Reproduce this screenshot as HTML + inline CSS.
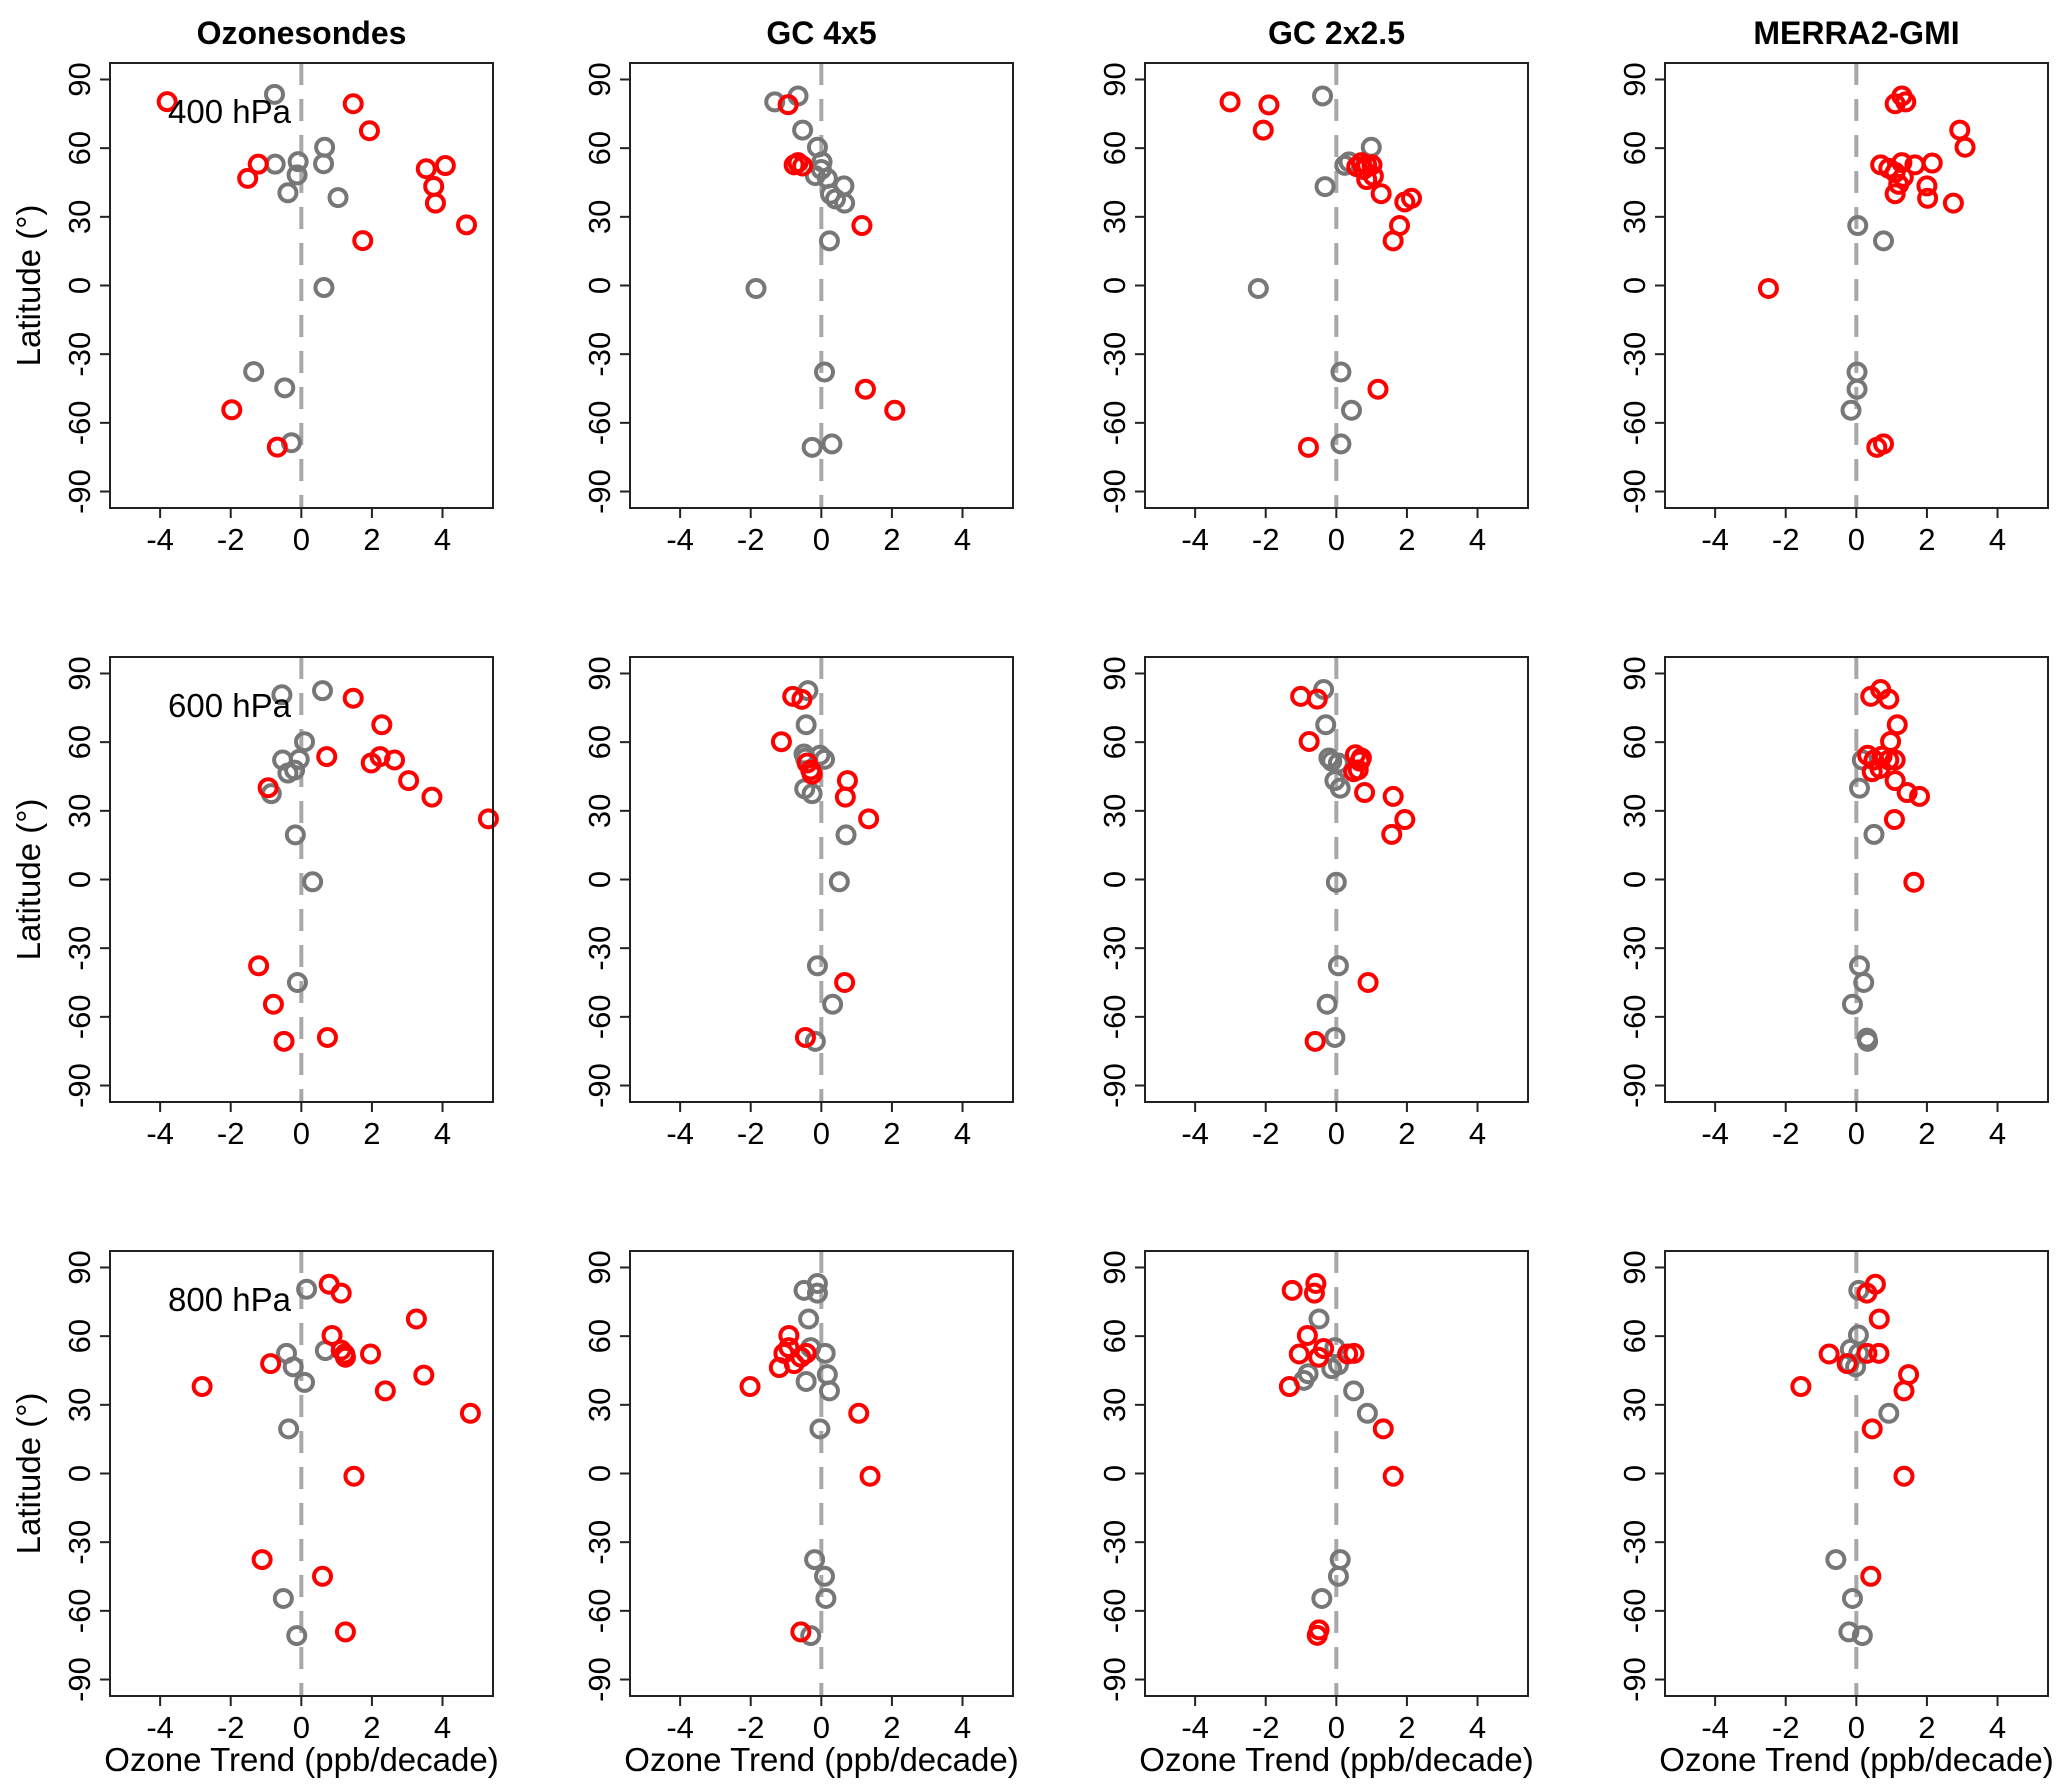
<!DOCTYPE html>
<html><head><meta charset="utf-8"><style>
html,body{margin:0;padding:0;background:#fff}
svg{display:block;font-family:"Liberation Sans",Arial,sans-serif}
</style></head><body>
<svg id="fig" width="2067" height="1784" viewBox="0 0 2067 1784"></svg>
<script>
// Data: x = ozone trend (ppb/decade), y = latitude (deg)
const p11RedX=[-3.8,1.47,1.93,-1.22,-1.52,3.54,4.08,3.75,3.8,4.68,1.74,-1.97,-0.68];
const p11RedY=[80.3,79.4,67.6,53,46.8,51,52.4,43.3,36,26.5,19.6,-54.3,-70.6];
const p11GrayX=[-0.76,-0.74,-0.09,-0.12,-0.38,0.66,0.63,1.04,0.64,-1.35,-0.47,-0.28];
const p11GrayY=[83.5,53,54.1,48.3,40.5,60.4,53.2,38.4,-0.9,-37.6,-44.7,-68.7];

const p12RedX=[-0.94,-0.77,-0.66,-0.53,1.15,1.25,2.08];
const p12RedY=[79,52.7,53.7,52.2,26.2,-45.3,-54.5];
const p12GrayX=[-1.32,-0.66,-0.53,-0.11,0.02,0,-0.17,0.17,0.26,0.4,0.64,0.66,0.23,-1.85,0.09,-0.26,0.3];
const p12GrayY=[80.2,82.8,67.9,60.4,54,50.7,48,46.8,39.9,37.8,43.5,36,19.5,-1.3,-37.8,-70.7,-69.2];

const p13RedX=[-3.01,-1.91,-2.07,0.58,0.71,0.86,1.01,0.86,1.05,0.77,1.27,1.94,2.13,1.79,1.61,1.18,-0.79];
const p13RedY=[80.2,78.9,67.9,51.9,53.7,52.7,52.7,46.3,47.8,50.7,40.1,36.5,38.1,26.2,19.5,-45.3,-70.7];
const p13GrayX=[-0.39,0.99,0.36,0.24,-0.32,-2.21,0.13,0.43,0.13];
const p13GrayY=[82.8,60.4,54,52.5,43.2,-1.3,-37.8,-54.5,-69.2];

const p14RedX=[1.1,1.29,1.4,2.93,3.08,0.69,0.92,1.29,1.66,2.15,1.1,1.33,1.2,1.1,2.0,2.02,2.75,-2.49,0.58,0.77];
const p14RedY=[79.4,82.8,80.2,67.9,60.4,52.7,51.2,53.7,52.7,53.5,49.4,47.3,44.2,40.1,43.5,38.1,36,-1.3,-70.7,-69.2];
const p14GrayX=[0.04,0.77,0.02,0.02,-0.15];
const p14GrayY=[26.2,19.5,-37.8,-45.3,-54.5];

const p21RedX=[1.47,2.28,0.72,1.98,2.23,2.64,3.04,3.7,5.3,-0.94,-1.21,-0.79,-0.49,0.74];
const p21RedY=[79.2,67.6,53.7,50.9,53.7,52.2,43.2,36,26.5,40.1,-37.7,-54.5,-70.7,-69];
const p21GrayX=[-0.55,0.6,0.09,-0.53,-0.06,-0.38,-0.19,-0.85,-0.17,0.32,-0.11];
const p21GrayY=[80.7,82.5,60.2,52.2,52.5,46.5,47.8,37.5,19.5,-1,-45];

const p22RedX=[-0.81,-0.55,-1.13,-0.4,-0.3,-0.26,0.74,0.68,1.34,0.66,-0.45];
const p22RedY=[80,78.7,60.2,50.9,47.8,46,43.2,36,26.5,-45,-69];
const p22GrayX=[-0.38,-0.43,-0.49,-0.45,-0.04,0.09,-0.47,-0.26,0.7,0.51,-0.11,0.32,-0.17];
const p22GrayY=[82.5,67.6,54.8,53,54.3,52.5,39.6,37.5,19.5,-1,-37.7,-54.5,-70.7];

const p23RedX=[-1.01,-0.54,-0.77,0.54,0.71,0.67,0.49,0.62,0.8,1.61,1.94,1.57,0.9,-0.6];
const p23RedY=[80,78.8,60.3,54.5,53.1,51.7,47.1,47.9,38,36.3,26.2,19.7,-45,-70.7];
const p23GrayX=[-0.36,-0.3,-0.21,-0.13,0.06,-0.04,0.11,0,0.06,-0.26,-0.04];
const p23GrayY=[83,67.6,53.1,51.7,50.9,43.2,39.9,-1.2,-37.7,-54.5,-69];

const p24RedX=[0.41,0.69,0.92,1.16,0.97,0.32,0.5,0.73,0.92,1.1,0.45,0.67,1.1,1.44,1.79,1.08,1.63];
const p24RedY=[80,83,78.8,67.6,60.3,54.3,52.2,53.9,52.2,52.2,47.1,48.5,43.2,38,36.3,26.2,-1.2];
const p24GrayX=[0.17,0.09,0.5,0.09,0.21,-0.11,0.3,0.32];
const p24GrayY=[52.2,39.9,19.7,-37.7,-45,-54.5,-69.3,-70.7];

const p31RedX=[0.79,1.13,3.26,0.87,1.13,1.23,1.25,1.96,-0.87,-2.81,2.38,3.47,4.79,1.49,-1.11,0.6,1.25];
const p31RedY=[82.7,78.8,67.5,60.3,53.9,52.2,50.8,52.2,48,38,36.1,43,26.3,-1.2,-37.6,-44.9,-69.2];
const p31GrayX=[0.15,-0.42,-0.23,0.09,0.68,-0.36,-0.51,-0.13];
const p31GrayY=[80.5,52.5,46.6,39.8,53.7,19.5,-54.6,-70.8];

const p32RedX=[-0.92,-1.06,-0.92,-1.19,-0.77,-0.58,-0.43,-2.02,1.06,1.38,-0.58];
const p32RedY=[60.3,52.5,55,46.3,48,50.8,52.5,38,26.3,-1.2,-69.2];
const p32GrayX=[-0.49,-0.11,-0.11,-0.36,-0.3,0.11,0.17,0.23,-0.43,-0.04,-0.19,0.09,0.13,-0.3];
const p32GrayY=[80,83,78.8,67.5,55,52.5,43.2,36.1,40.2,19.5,-37.6,-44.9,-54.6,-70.8];

const p33RedX=[-1.25,-0.58,-0.62,-0.82,-1.05,-0.5,-0.36,0.32,0.5,-1.33,1.33,1.61,-0.49,-0.54];
const p33RedY=[80,83,78.8,60.3,52.2,50.8,54.6,52.2,52.5,38,19.5,-1.2,-68.3,-70.7];
const p33GrayX=[-0.49,-0.04,0.06,-0.13,-0.8,-0.92,0.49,0.88,0.11,0.06,-0.41];
const p33GrayY=[67.5,55,47.5,45.8,43.6,40.7,36.1,26.3,-37.6,-44.9,-54.6];

const p34RedX=[0.54,0.3,0.65,-0.77,-0.26,0.3,0.64,1.48,1.35,-1.57,0.45,1.35,0.41];
const p34RedY=[82.7,78.8,67.5,52.2,48,52.5,52.5,43.2,36.1,38,19.5,-1.2,-44.9];
const p34GrayX=[0.07,0.06,-0.17,0.07,-0.21,-0.02,0.92,-0.58,-0.11,-0.21,0.17];
const p34GrayY=[80,60.5,54.2,52.5,48,46.6,26.3,-37.6,-54.6,-69.2,-70.8];

const colTitles=["Ozonesondes","GC 4x5","GC 2x2.5","MERRA2-GMI"];
const levelLabels=["400 hPa","600 hPa","800 hPa"];
const xTicks=[-4,-2,0,2,4];
const yTicks=[90,60,30,0,-30,-60,-90];
const panels=[
 [[p11RedX,p11RedY,p11GrayX,p11GrayY],[p12RedX,p12RedY,p12GrayX,p12GrayY],[p13RedX,p13RedY,p13GrayX,p13GrayY],[p14RedX,p14RedY,p14GrayX,p14GrayY]],
 [[p21RedX,p21RedY,p21GrayX,p21GrayY],[p22RedX,p22RedY,p22GrayX,p22GrayY],[p23RedX,p23RedY,p23GrayX,p23GrayY],[p24RedX,p24RedY,p24GrayX,p24GrayY]],
 [[p31RedX,p31RedY,p31GrayX,p31GrayY],[p32RedX,p32RedY,p32GrayX,p32GrayY],[p33RedX,p33RedY,p33GrayX,p33GrayY],[p34RedX,p34RedY,p34GrayX,p34GrayY]]
];

const NS="http://www.w3.org/2000/svg";
const svg=document.getElementById('fig');
const colLeft=[110,630,1145,1665], rowTop=[63,657,1251];
const PW=383, PH=445, XMIN=-5.42, XMAX=5.43, YMIN=-97.2, YMAX=97.2;
function mk(tag,attrs,parent){const e=document.createElementNS(NS,tag);for(const k in attrs)e.setAttribute(k,attrs[k]);(parent||svg).appendChild(e);return e;}

for(let r=0;r<3;r++){for(let c=0;c<4;c++){
  const ox=colLeft[c], oy=rowTop[r];
  const xs=v=>ox+(v-XMIN)/(XMAX-XMIN)*PW;
  const ys=v=>oy+(YMAX-v)/(YMAX-YMIN)*PH;
  const g=mk('g',{});
  
  
  const zl=mk('line',{x1:xs(0),x2:xs(0),y1:oy,y2:oy+PH,stroke:'#a8a8a8','stroke-width':4,'stroke-dasharray':'22 14'},g);
  
  
  const d=panels[r][c];
  for(let i=0;i<d[2].length;i++){
    const p=mk('circle',{cx:xs(d[2][i]),cy:ys(d[3][i]),r:8.5,fill:'none',stroke:'#777777','stroke-width':4},g);
    
    
  }
  for(let i=0;i<d[0].length;i++){
    const p=mk('circle',{cx:xs(d[0][i]),cy:ys(d[1][i]),r:8.5,fill:'none',stroke:'#ff0000','stroke-width':4},g);
    
    
  }
  const box=mk('rect',{x:ox,y:oy,width:PW,height:PH,fill:'none',stroke:'#222','stroke-width':2},g);
  
  
  xTicks.forEach(t=>{
    mk('line',{x1:xs(t),x2:xs(t),y1:oy+PH,y2:oy+PH+10,stroke:'#222','stroke-width':2},g);
    const tx=mk('text',{x:xs(t),y:oy+PH+42,'font-size':31,'text-anchor':'middle',fill:'#000'},g);
    tx.textContent=t;
    
    
  });
  yTicks.forEach(t=>{
    mk('line',{x1:ox,x2:ox-10,y1:ys(t),y2:ys(t),stroke:'#222','stroke-width':2},g);
    const cx=ox-31, cy=ys(t);
    const tx=mk('text',{x:cx,y:cy+11,'font-size':31,'text-anchor':'middle',fill:'#000',transform:'rotate(-90 '+cx+' '+cy+')'},g);
    tx.textContent=t;
    
    
  });
  if(c===0){
    const lv=mk('text',{x:ox+58,y:oy+60,'font-size':33,fill:'#000'},g);
    lv.textContent=levelLabels[r];
    
    
    const cx=29, cy=oy+PH/2;
    const yt=mk('text',{x:cx,y:cy+11,'font-size':33,'text-anchor':'middle',fill:'#000',transform:'rotate(-90 '+cx+' '+cy+')'},g);
    yt.textContent='Latitude (°)';
    
    
  }
  if(r===0){
    const tt=mk('text',{x:ox+PW/2,y:44,'font-size':32,'font-weight':'bold','text-anchor':'middle',fill:'#000'},g);
    tt.textContent=colTitles[c];
    
    
  }
  if(r===2){
    const xt=mk('text',{x:ox+PW/2,y:1771,'font-size':33,'text-anchor':'middle',fill:'#000'},g);
    xt.textContent='Ozone Trend (ppb/decade)';
    
    
  }
}}
</script>
</body></html>
